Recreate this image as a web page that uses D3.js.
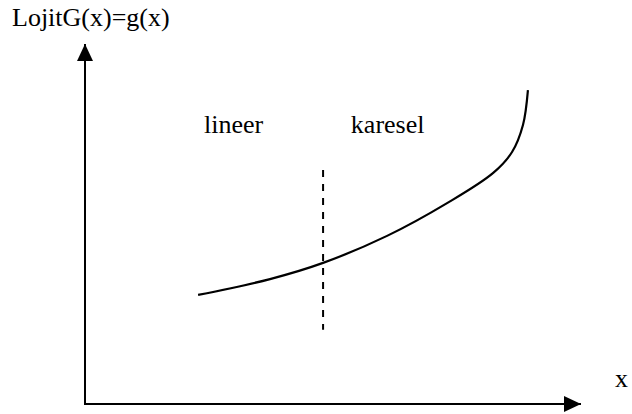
<!DOCTYPE html>
<html>
<head>
<meta charset="utf-8">
<script src="https://cdn.jsdelivr.net/npm/d3@7"></script>
<style>
  body { margin: 0; background: #fff; }
  text { font-family: "Liberation Serif", "Times New Roman", serif; fill: #000; }
</style>
</head>
<body>
<script>
// Curve points (x, g(x)) in chart units
let curveX = [2.28, 3.73, 4.80, 6.09, 7.30, 8.23, 8.61, 8.83, 8.93];
let curveY = [3.03, 3.47, 3.92, 4.67, 5.58, 6.42, 7.00, 7.75, 8.72];

// Boundary between the two regions
let splitX = [4.80];
let splitY = [2.06, 6.50];

// Region labels
let regionNames = ["lineer", "karesel"];
let regionX = [2.40, 5.36];
let regionY = [7.53, 7.53];

let yTitle = "LojitG(x)=g(x)";
let xTitle = "x";

let w = 632, h = 414;

let xScale = d3.scaleLinear().domain([0, 10]).range([85, 581]);
let yScale = d3.scaleLinear().domain([0, 10]).range([404, 44]);

let svg = d3.select("body")
  .append("svg")
  .attr("width", w)
  .attr("height", h);

// Arrowhead marker
let defs = svg.append("defs");
defs.append("marker")
  .attr("id", "arrow")
  .attr("markerUnits", "userSpaceOnUse")
  .attr("viewBox", "0 0 17 16")
  .attr("markerWidth", 17)
  .attr("markerHeight", 16)
  .attr("refX", 17)
  .attr("refY", 8)
  .attr("orient", "auto")
  .append("path")
  .attr("d", "M0,0 L17,8 L0,16 Z")
  .attr("fill", "#000");

// Axes
svg.append("line")
  .attr("x1", xScale(0)).attr("y1", yScale(0))
  .attr("x2", xScale(0)).attr("y2", yScale(10))
  .attr("stroke", "#000").attr("stroke-width", 2)
  .attr("marker-end", "url(#arrow)");

svg.append("line")
  .attr("x1", xScale(0) - 1).attr("y1", yScale(0))
  .attr("x2", xScale(10)).attr("y2", yScale(0))
  .attr("stroke", "#000").attr("stroke-width", 2)
  .attr("marker-end", "url(#arrow)");

// Curve
let line = d3.line()
  .x(d => xScale(d[0]))
  .y(d => yScale(d[1]))
  .curve(d3.curveCatmullRom);

svg.append("path")
  .datum(d3.zip(curveX, curveY))
  .attr("d", line)
  .attr("fill", "none")
  .attr("stroke", "#000")
  .attr("stroke-width", 2.2);

// Dashed separator
svg.append("line")
  .attr("x1", xScale(splitX[0])).attr("x2", xScale(splitX[0]))
  .attr("y1", yScale(splitY[1])).attr("y2", yScale(splitY[0]))
  .attr("stroke", "#000").attr("stroke-width", 2)
  .attr("stroke-dasharray", "7,7");

// Labels
svg.selectAll(".region")
  .data(regionNames)
  .enter().append("text")
  .attr("class", "region")
  .attr("x", (d, i) => xScale(regionX[i]))
  .attr("y", (d, i) => yScale(regionY[i]))
  .attr("font-size", 26)
  .text(d => d);

svg.append("text")
  .attr("x", 12)
  .attr("y", 26)
  .attr("font-size", 26)
  .text(yTitle);

svg.append("text")
  .attr("x", 615)
  .attr("y", 387)
  .attr("font-size", 26)
  .text(xTitle);
</script>
</body>
</html>
